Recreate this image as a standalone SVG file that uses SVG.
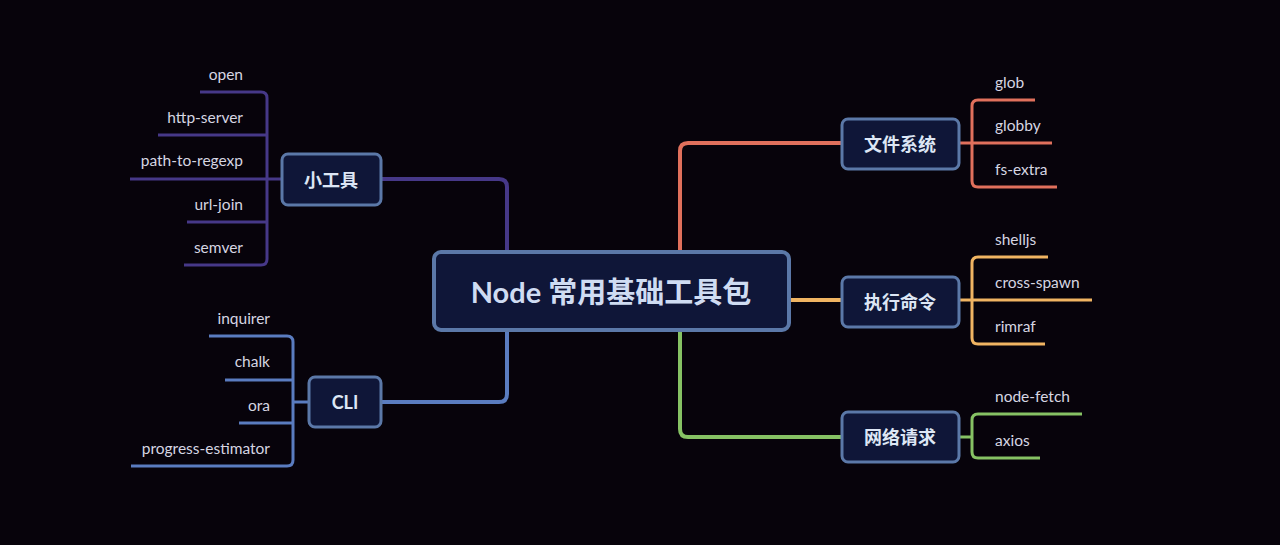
<svg xmlns="http://www.w3.org/2000/svg" width="1280" height="545" viewBox="0 0 1280 545">
<style>
.node{fill:#0f1638;stroke:#5b78a8;stroke-width:3}
.root{fill:#0f1638;stroke:#5b78a8;stroke-width:4}
.nt{font-family:Lato,"Noto Sans CJK SC",sans-serif;font-size:18px;font-weight:bold;fill:#dde6f5;text-anchor:middle;dominant-baseline:central}
.rt{font-family:Lato,"Noto Sans CJK SC",sans-serif;font-size:29px;font-weight:bold;fill:#cfdcf2;text-anchor:middle;dominant-baseline:central}
.lt{font-family:Lato,"Open Sans",sans-serif;font-size:15.5px;fill:#d6d6e2}
.l{text-anchor:end}
.c{fill:none;stroke-width:3;stroke-linecap:butt}
.m{fill:none;stroke-width:4}
.pu{stroke:#463888}
.bl{stroke:#5a7cc0}
.sa{stroke:#e0705c}
.or{stroke:#f0b462}
.gr{stroke:#86c264}
</style>
<rect width="1280" height="545" fill="#07030b"/>
<g id="connectors">
<path class="m pu" d="M381,179 H499 Q507,179 507,187 V251"/>
<path class="m bl" d="M381,402 H499 Q507,402 507,394 V330"/>
<path class="m sa" d="M680,251 V151 Q680,143 688,143 H842"/>
<path class="m or" d="M790,300 H842"/>
<path class="m gr" d="M680,330 V429 Q680,437 688,437 H842"/>
<path class="c pu" d="M200,92 H261 Q267,92 267,98 V259 Q267,265 261,265 H184"/>
<path class="c pu" d="M158,135 H267"/>
<path class="c pu" d="M130,179 H282"/>
<path class="c pu" d="M187,222 H267"/>
<path class="c bl" d="M209,336 H287 Q293,336 293,342 V460 Q293,466 287,466 H131"/>
<path class="c bl" d="M225,380 H293"/>
<path class="c bl" d="M239,423 H293"/>
<path class="c bl" d="M293,402 H309"/>
<path class="c sa" d="M1035,100 H978 Q972,100 972,106 V181 Q972,187 978,187 H1057"/>
<path class="c sa" d="M959,143 H1052"/>
<path class="c or" d="M1048,257 H978 Q972,257 972,263 V338 Q972,344 978,344 H1045"/>
<path class="c or" d="M959,300 H1092"/>
<path class="c gr" d="M1082,414 H978 Q972,414 972,420 V452 Q972,458 978,458 H1040"/>
<path class="c gr" d="M959,437 H972"/>
</g>
<g id="root"><rect class="root" x="434" y="252" width="355" height="78" rx="7"/><text class="rt" x="611" y="291">Node 常用基础工具包</text></g>
<g id="tools"><rect class="node" x="282" y="154" width="99" height="51" rx="6"/><text class="nt" x="331" y="180">小工具</text></g>
<g id="cli"><rect class="node" x="309" y="377" width="72" height="50" rx="6"/><text class="nt" x="345" y="402">CLI</text></g>
<g id="fs"><rect class="node" x="842" y="119" width="117" height="50" rx="6"/><text class="nt" x="900" y="144">文件系统</text></g>
<g id="exec"><rect class="node" x="842" y="277" width="117" height="50" rx="6"/><text class="nt" x="900" y="302">执行命令</text></g>
<g id="net"><rect class="node" x="842" y="412" width="117" height="50" rx="6"/><text class="nt" x="900" y="437">网络请求</text></g>
<g id="leaves">
<text class="lt l" x="243" y="80">open</text>
<text class="lt l" x="243" y="123">http-server</text>
<text class="lt l" x="243" y="166">path-to-regexp</text>
<text class="lt l" x="243" y="210">url-join</text>
<text class="lt l" x="243" y="253">semver</text>
<text class="lt l" x="270" y="324">inquirer</text>
<text class="lt l" x="270" y="367">chalk</text>
<text class="lt l" x="270" y="411">ora</text>
<text class="lt l" x="270" y="454">progress-estimator</text>
<text class="lt" x="995" y="88">glob</text>
<text class="lt" x="995" y="131">globby</text>
<text class="lt" x="995" y="175">fs-extra</text>
<text class="lt" x="995" y="245">shelljs</text>
<text class="lt" x="995" y="288">cross-spawn</text>
<text class="lt" x="995" y="332">rimraf</text>
<text class="lt" x="995" y="402">node-fetch</text>
<text class="lt" x="995" y="446">axios</text>
</g>
</svg>
